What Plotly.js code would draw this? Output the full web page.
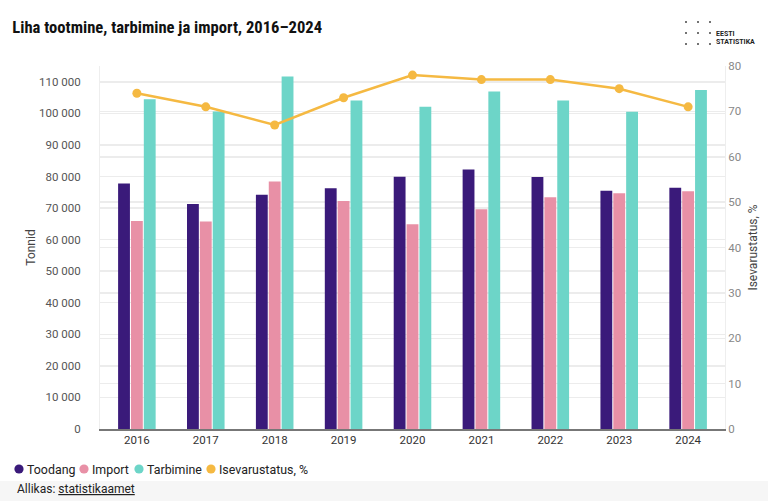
<!DOCTYPE html>
<html><head><meta charset="utf-8">
<script src="https://cdn.plot.ly/plotly-3.0.1.min.js"></script>
<style>html,body{margin:0;padding:0;background:#fff;}#chart{width:768px;height:501px;}</style>
</head><body><div id="chart"></div>
<script>
const years = ['2016','2017','2018','2019','2020','2021','2022','2023','2024'];
const toodang = [77800, 71300, 74200, 76300, 79900, 82200, 79800, 75500, 76400];
const importT = [65900, 65700, 78400, 72200, 64900, 69600, 73400, 74700, 75300];
const tarbimine = [104500, 100600, 111700, 104100, 102100, 106900, 104100, 100500, 107400];
const isevarustatus = [74, 71, 67, 73, 78, 77, 77, 75, 71];

const names = ['Toodang','Import','Tarbimine','Isevarustatus, %'];
const colors = ['#3a1a7a','#e890a6','#6dd5c8','#f5b942'];

const traces = [
  {type:'bar', x:years, y:toodang, name:names[0], marker:{color:colors[0]}, showlegend:false},
  {type:'bar', x:years, y:importT, name:names[1], marker:{color:colors[1]}, showlegend:false},
  {type:'bar', x:years, y:tarbimine, name:names[2], marker:{color:colors[2]}, showlegend:false},
  {type:'scatter', mode:'lines+markers', x:years, y:isevarustatus, yaxis:'y2', name:names[3],
   line:{color:colors[3], width:2.5}, marker:{color:colors[3], size:9}, showlegend:false}
];

// pixel -> paper helpers (plot area: x 100..725, y 66..429)
const PX = x => (x-100)/625;
const PY = y => (429-y)/363;

const shapes = [
  {type:'rect', xref:'paper', yref:'paper', x0:-1, x1:2, y0:PY(481), y1:PY(520), fillcolor:'#f6f6f6', line:{width:0}, layer:'below'}
];
[686,698,710].forEach(x=>[22,33,44].forEach(y=>{
  shapes.push({type:'circle', xref:'paper', yref:'paper',
    x0:PX(x-1), x1:PX(x+1), y0:PY(y+1), y1:PY(y-1), fillcolor:'#444', line:{width:0}});
}));

const legendCx = [19, 84, 139, 211];
const annotations = [
  {text:'Allikas: <u>statistikaamet</u>', xref:'paper', yref:'paper', x:PX(15), y:PY(489),
   xanchor:'left', yanchor:'middle', showarrow:false, font:{size:12, color:'#222'}},
  {text:'<b>EESTI</b>', xref:'paper', yref:'paper', x:PX(714), y:PY(34),
   xanchor:'left', yanchor:'middle', showarrow:false, font:{size:7, color:'#222', family:'"Liberation Sans Narrow", Roboto, sans-serif'}},
  {text:'<b>STATISTIKA</b>', xref:'paper', yref:'paper', x:PX(714), y:PY(42),
   xanchor:'left', yanchor:'middle', showarrow:false, font:{size:7, color:'#222', family:'"Liberation Sans Narrow", Roboto, sans-serif'}}
];
names.forEach((n,i)=>{
  const cx = legendCx[i], cy = 469, r = 4.6;
  shapes.push({type:'circle', xref:'paper', yref:'paper', x0:PX(cx-r), x1:PX(cx+r), y0:PY(cy+r), y1:PY(cy-r),
    fillcolor:colors[i], line:{width:0}});
  annotations.push({text:n, xref:'paper', yref:'paper', x:PX(cx+6), y:PY(cy), xanchor:'left', yanchor:'middle',
    showarrow:false, font:{size:12.4, color:'#222'}});
});

const layout = {
  width:768, height:501,
  margin:{l:100, r:43, t:66, b:72},
  paper_bgcolor:'#fff', plot_bgcolor:'#fff',
  separators:', ',
  font:{family:'Roboto, sans-serif', color:'#444'},
  title:{text:'<b>Liha tootmine, tarbimine ja import, 2016–2024</b>', x:0.016, xanchor:'left', y:1-27/501, yanchor:'middle',
    font:{family:'"Liberation Sans Narrow", "Roboto Condensed", Roboto, sans-serif', size:16.6, color:'#111'}},
  barmode:'group', bargap:0.44, bargroupgap:0.08,
  showlegend:false,
  xaxis:{type:'category', showline:true, linecolor:'#777', linewidth:1.5, ticks:'',
    tickfont:{size:11.5, color:'#333'}, showgrid:false},
  yaxis:{range:[0,115000], tickvals:[0,10000,20000,30000,40000,50000,60000,70000,80000,90000,100000,110000],
    tickformat:',d', tickfont:{size:11.5, color:'#555'}, gridcolor:'#ececec', gridwidth:1.5, zeroline:false,
    showline:true, linecolor:'#eeeeee', ticks:'', ticklabelstandoff:16,
    title:{text:'Tonnid', font:{size:12, color:'#444'}, standoff:0}},
  yaxis2:{overlaying:'y', side:'right', range:[0,80], dtick:10, tickfont:{size:11.5, color:'#888'},
    gridcolor:'#ececec', gridwidth:1.5, zeroline:false, showline:true, linecolor:'#eeeeee',
    title:{text:'Isevarustatus, %', font:{size:12, color:'#444'}, standoff:8}},
  shapes, annotations
};
Plotly.newPlot('chart', traces, layout, {displayModeBar:false, staticPlot:true});
</script></body></html>
